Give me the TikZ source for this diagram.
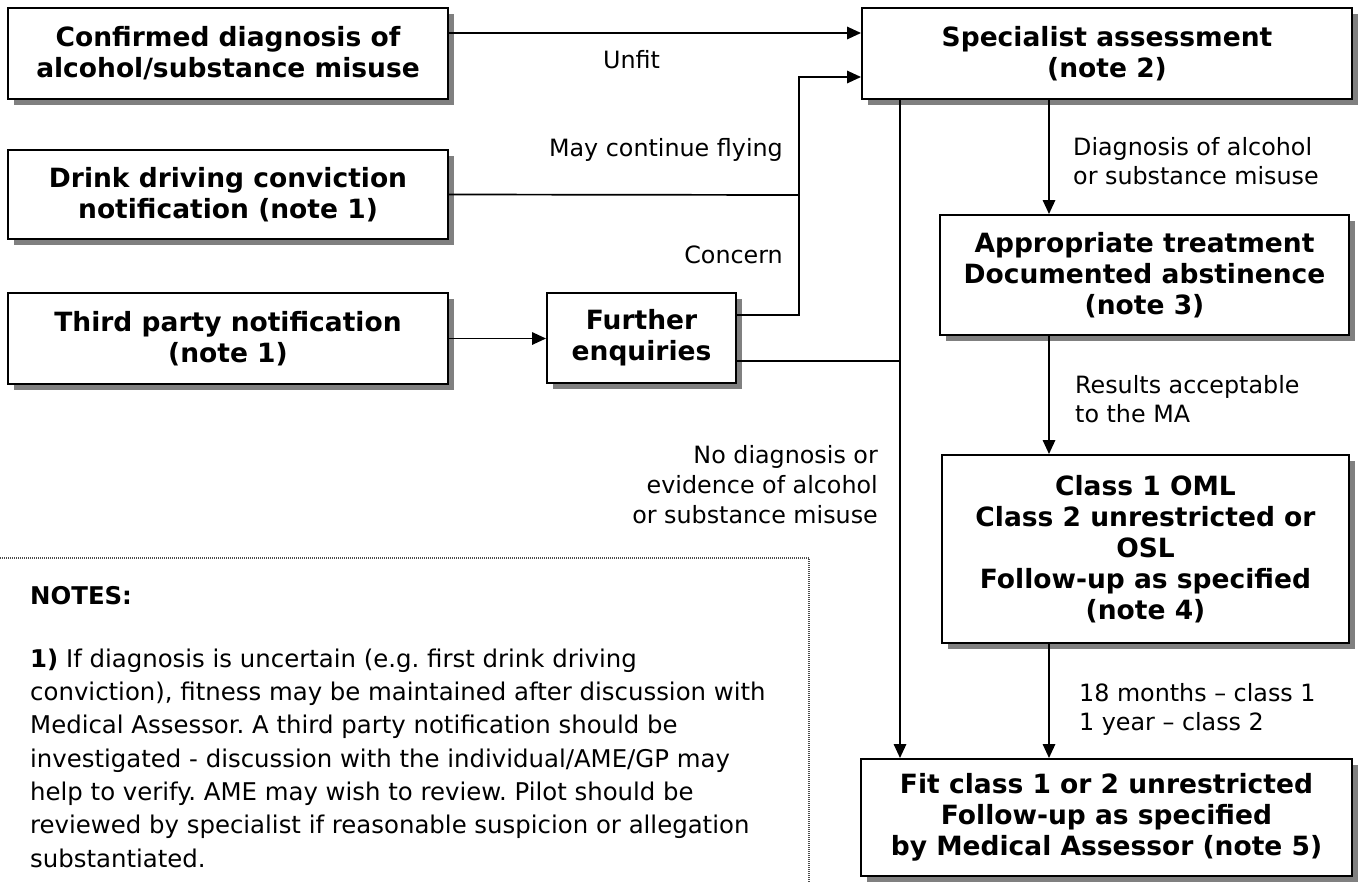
\documentclass[tikz,border=0pt]{standalone}
\usepackage{fontspec}
\setmainfont{DejaVu Sans}
\usetikzlibrary{arrows.meta,shadows,calc}
\frenchspacing

% font sizes (1pt in the drawing = 1 unit of the layout grid)
\newcommand\boxfont{\fontsize{26.5}{31}\selectfont\bfseries}
\newcommand\labfont{\fontsize{23.8}{29}\selectfont}
\newcommand\notefont{\fontsize{24.4}{33.3}\selectfont}

\begin{document}
\begin{tikzpicture}[x=1pt,y=-1pt,
  stepbox/.style={draw,line width=2pt,fill=white,align=center,font=\boxfont,
    inner sep=0pt,
    drop shadow={shadow xshift=6pt,shadow yshift=-6pt,fill=black!50,opacity=1}},
  conn/.style={line width=1.7pt},
  arr/.style={conn,-{Triangle[length=14pt,width=12.5pt]}},
  lab/.style={font=\labfont,inner sep=0pt}]
\useasboundingbox (0,0) rectangle (1360,881);
\fill[white] (0,0) rectangle (1360,881);

% notes frame (dotted, runs off the lower left)
\draw[black!70,line width=1.1pt,dash pattern=on 1pt off 1pt] (-5,558) rectangle (809,895);
% multi-line nodes: the base anchor sits on the last line
\node[font=\notefont,align=left,anchor=base west,inner sep=0pt] (notes) at (30,867)
 {{\bfseries NOTES:}\\[29pt]
  {\bfseries 1)} If diagnosis is uncertain (e.g. first drink driving\\
  conviction), fitness may be maintained after discussion with\\
  Medical Assessor. A third party notification should be\\
  investigated - discussion with the individual/AME/GP may\\
  help to verify. AME may wish to review. Pilot should be\\
  reviewed by specialist if reasonable suspicion or allegation\\
  substantiated.};

% boxes
\node[stepbox,minimum width=440pt,minimum height=91pt] (conf) at (228,53.5)
  {Confirmed diagnosis of\\alcohol/substance misuse};
\node[stepbox,minimum width=440pt,minimum height=89pt] (drink) at (228,194.5)
  {Drink driving conviction\\notification (note 1)};
\node[stepbox,minimum width=440pt,minimum height=91pt] (third) at (228,338.5)
  {Third party notification\\(note 1)};
\node[stepbox,minimum width=189pt,minimum height=90pt] (further) at (641.5,338)
  {Further\\enquiries};
\node[stepbox,minimum width=490pt,minimum height=91pt] (spec) at (1107,53.5)
  {Specialist assessment\\(note 2)};
\node[stepbox,minimum width=409pt,minimum height=120pt] (treat) at (1144.5,275)
  {Appropriate treatment\\Documented abstinence\\(note 3)};
\node[stepbox,minimum width=407pt,minimum height=188pt] (oml) at (1145.5,549)
  {Class 1 OML\\Class 2 unrestricted or\\OSL\\Follow-up as specified\\(note 4)};
\node[stepbox,minimum width=491pt,minimum height=117pt] (fit) at (1106.5,817.5)
  {Fit class 1 or 2 unrestricted\\Follow-up as specified\\by Medical Assessor (note 5)};

% junction points
\coordinate (cj) at (799,195);
\coordinate (ctop) at (799,77);
\coordinate (cfe) at (799,315);
\coordinate (nj) at (900,361);

% connectors
\draw[arr] (conf.east |- 0,33) -- (spec.west |- 0,33);
\draw[conn] (drink.east) -- (cj);
\draw[arr] (further.east |- cfe) -- (cfe) -- (ctop) -- (spec.west |- ctop);
\draw[arr] (third.east) -- (further.west |- third.east);
\draw[conn] (further.east |- nj) -- (nj);
\draw[arr] (spec.south -| nj) -- (fit.north -| nj);
\draw[arr] (spec.south -| 1049,0) -- (treat.north -| 1049,0);
\draw[arr] (treat.south -| 1049,0) -- (oml.north -| 1049,0);
\draw[arr] (oml.south -| 1049,0) -- (fit.north -| 1049,0);

% connector labels
\node[lab,anchor=base west] (lunfit) at (603,68) {Unfit};
\node[lab,anchor=base east] (lfly) at (783,156) {May continue flying};
\node[lab,anchor=base east] (lcon) at (783,263) {Concern};
\node[lab,anchor=base west,align=left] (ldiag) at (1073,184)
  {Diagnosis of alcohol\\or substance misuse};
\node[lab,anchor=base west,align=left] (lres) at (1075,422)
  {Results acceptable\\to the MA};
\node[lab,anchor=base east,align=right,font=\fontsize{23.8}{30}\selectfont] (lno) at (878,523)
  {No diagnosis or\\evidence of alcohol\\or substance misuse};
\node[lab,anchor=base west,align=left] (lmon) at (1079,730)
  {18 months – class 1\\1 year – class 2};
\end{tikzpicture}
\end{document}
